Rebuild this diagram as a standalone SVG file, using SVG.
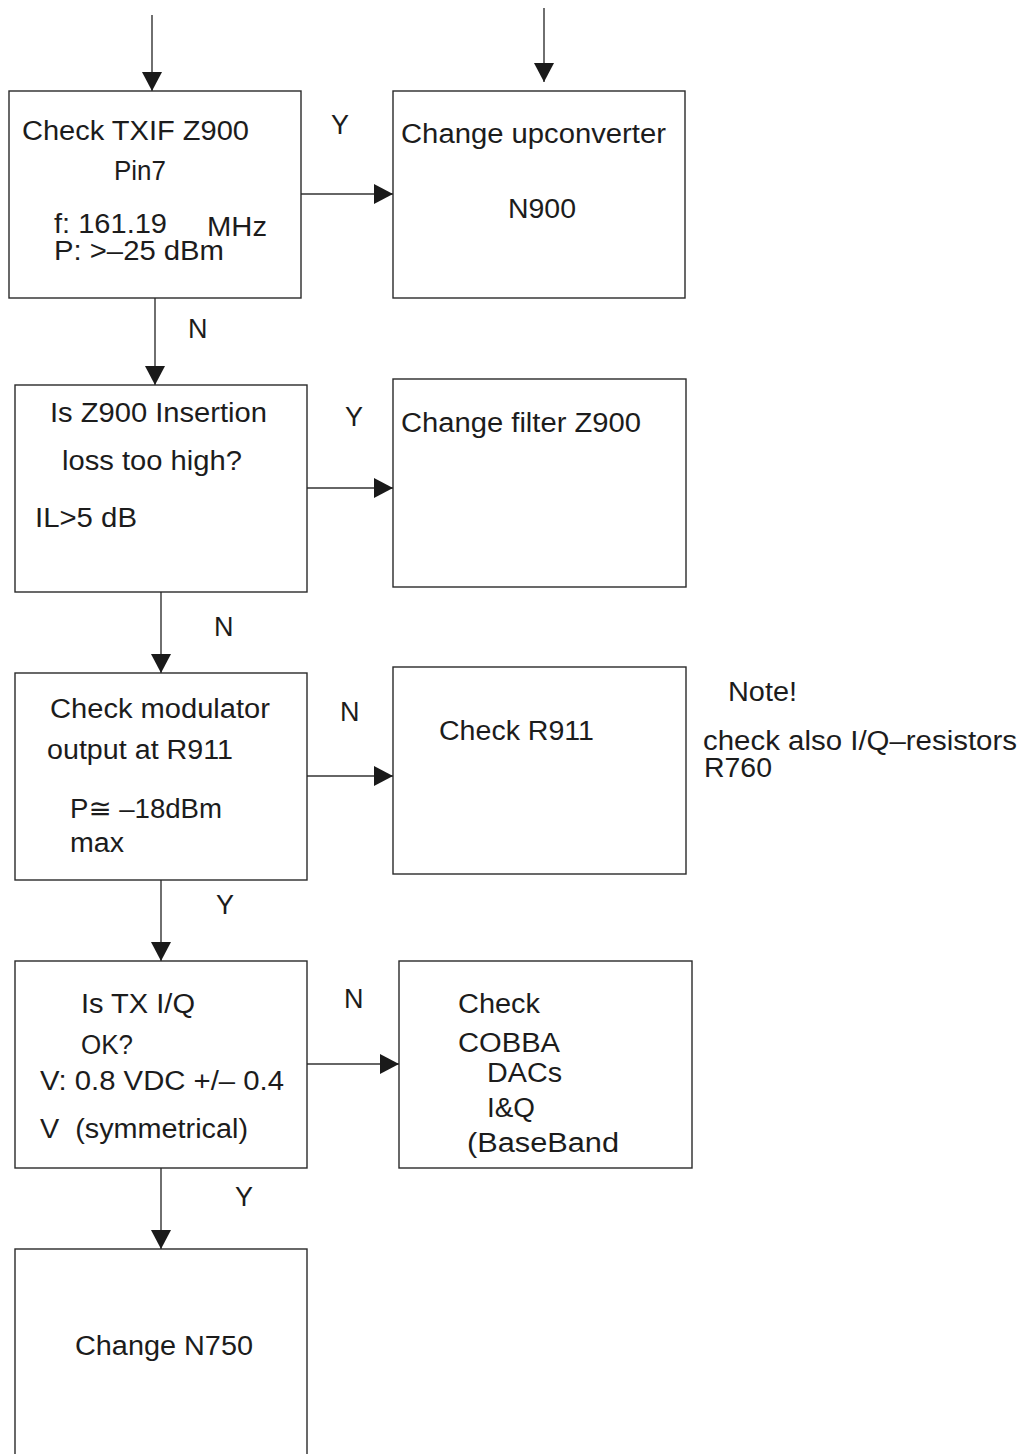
<svg xmlns="http://www.w3.org/2000/svg" width="1026" height="1454" viewBox="0 0 1026 1454">
  <style>
    .box { fill: #ffffff; stroke: #2a2a2a; stroke-width: 1.4; }
    .wire { fill: none; stroke: #333333; stroke-width: 1.4; }
    text { font-family: "Liberation Sans", Arial, "DejaVu Sans", sans-serif; font-size: 27px; fill: #1c1c1c; }
    .lbl { font-size: 27px; }
  </style>
  <defs>
    <marker id="head" markerUnits="userSpaceOnUse" markerWidth="20" markerHeight="20" refX="19" refY="10" orient="auto">
      <path d="M0,0 L19,10 L0,20 Z" fill="#1a1a1a"/>
    </marker>
  </defs>
  <rect width="1026" height="1454" fill="#ffffff"/>

  <!-- connectors -->
  <g id="connectors">
    <line class="wire" x1="152" y1="15" x2="152" y2="91" marker-end="url(#head)"/>
    <line class="wire" x1="544" y1="8" x2="544" y2="82" marker-end="url(#head)"/>
    <line class="wire" x1="301" y1="194" x2="393" y2="194" marker-end="url(#head)"/>
    <line class="wire" x1="155" y1="298" x2="155" y2="385" marker-end="url(#head)"/>
    <line class="wire" x1="307" y1="488" x2="393" y2="488" marker-end="url(#head)"/>
    <line class="wire" x1="161" y1="592" x2="161" y2="673" marker-end="url(#head)"/>
    <line class="wire" x1="307" y1="776" x2="393" y2="776" marker-end="url(#head)"/>
    <line class="wire" x1="161" y1="880" x2="161" y2="961" marker-end="url(#head)"/>
    <line class="wire" x1="307" y1="1064" x2="399" y2="1064" marker-end="url(#head)"/>
    <line class="wire" x1="161" y1="1168" x2="161" y2="1249" marker-end="url(#head)"/>
    <text class="lbl" x="331" y="134">Y</text>
    <text class="lbl" x="188" y="338">N</text>
    <text class="lbl" x="345" y="426">Y</text>
    <text class="lbl" x="214" y="636">N</text>
    <text class="lbl" x="340" y="721">N</text>
    <text class="lbl" x="216" y="914">Y</text>
    <text class="lbl" x="344" y="1008">N</text>
    <text class="lbl" x="235" y="1206">Y</text>
  </g>

  <!-- Check TXIF Z900 -->
  <g id="check-txif">
    <rect class="box" x="9" y="91" width="292" height="207"/>
    <text x="22" y="140" textLength="227" lengthAdjust="spacingAndGlyphs">Check TXIF Z900</text>
    <text x="114" y="180" textLength="52" lengthAdjust="spacingAndGlyphs">Pin7</text>
    <text x="54" y="233" textLength="113" lengthAdjust="spacingAndGlyphs">f: 161.19</text>
    <text x="207" y="236" textLength="60" lengthAdjust="spacingAndGlyphs">MHz</text>
    <text x="54" y="260" textLength="170" lengthAdjust="spacingAndGlyphs">P: &gt;–25 dBm</text>
  </g>

  <!-- Change upconverter -->
  <g id="change-upconverter">
    <rect class="box" x="393" y="91" width="292" height="207"/>
    <text x="401" y="143" textLength="265" lengthAdjust="spacingAndGlyphs">Change upconverter</text>
    <text x="508" y="218" textLength="68" lengthAdjust="spacingAndGlyphs">N900</text>
  </g>

  <!-- Insertion loss test -->
  <g id="insertion-loss">
    <rect class="box" x="15" y="385" width="292" height="207"/>
    <text x="50" y="422" textLength="217" lengthAdjust="spacingAndGlyphs">Is Z900 Insertion</text>
    <text x="62" y="470" textLength="180" lengthAdjust="spacingAndGlyphs">loss too high?</text>
    <text x="35" y="527" textLength="102" lengthAdjust="spacingAndGlyphs">IL&gt;5 dB</text>
  </g>

  <!-- Change filter -->
  <g id="change-filter">
    <rect class="box" x="393" y="379" width="293" height="208"/>
    <text x="401" y="432" textLength="240" lengthAdjust="spacingAndGlyphs">Change filter Z900</text>
  </g>

  <!-- Modulator output -->
  <g id="modulator-output">
    <rect class="box" x="15" y="673" width="292" height="207"/>
    <text x="50" y="718" textLength="220" lengthAdjust="spacingAndGlyphs">Check modulator</text>
    <text x="47" y="759" textLength="186" lengthAdjust="spacingAndGlyphs">output at R911</text>
    <text x="70" y="818" textLength="152" lengthAdjust="spacingAndGlyphs">P≅ –18dBm</text>
    <text x="70" y="852" textLength="54" lengthAdjust="spacingAndGlyphs">max</text>
  </g>

  <!-- Check R911 -->
  <g id="check-r911">
    <rect class="box" x="393" y="667" width="293" height="207"/>
    <text x="439" y="740" textLength="155" lengthAdjust="spacingAndGlyphs">Check R911</text>
  </g>

  <!-- Side note -->
  <g id="note">
    <text x="728" y="701" textLength="69" lengthAdjust="spacingAndGlyphs">Note!</text>
    <text x="703" y="750" textLength="314" lengthAdjust="spacingAndGlyphs">check also I/Q–resistors</text>
    <text x="704" y="777" textLength="68" lengthAdjust="spacingAndGlyphs">R760</text>
  </g>

  <!-- TX I/Q test -->
  <g id="tx-iq">
    <rect class="box" x="15" y="961" width="292" height="207"/>
    <text x="81" y="1013" textLength="114" lengthAdjust="spacingAndGlyphs">Is TX I/Q</text>
    <text x="81" y="1054" textLength="52" lengthAdjust="spacingAndGlyphs">OK?</text>
    <text x="40" y="1090" textLength="244" lengthAdjust="spacingAndGlyphs">V: 0.8 VDC +/– 0.4</text>
    <text x="40" y="1138" textLength="208" lengthAdjust="spacingAndGlyphs" xml:space="preserve">V  (symmetrical)</text>
  </g>

  <!-- Check COBBA -->
  <g id="check-cobba">
    <rect class="box" x="399" y="961" width="293" height="207"/>
    <text x="458" y="1013" textLength="82" lengthAdjust="spacingAndGlyphs">Check</text>
    <text x="458" y="1052" textLength="102" lengthAdjust="spacingAndGlyphs">COBBA</text>
    <text x="487" y="1082" textLength="75" lengthAdjust="spacingAndGlyphs">DACs</text>
    <text x="487" y="1117" textLength="48" lengthAdjust="spacingAndGlyphs">I&amp;Q</text>
    <text x="467" y="1152" textLength="152" lengthAdjust="spacingAndGlyphs">(BaseBand</text>
  </g>

  <!-- Change N750 (box continues past the lower edge) -->
  <g id="change-n750">
    <rect class="box" x="15" y="1249" width="292" height="220"/>
    <text x="75" y="1355" textLength="178" lengthAdjust="spacingAndGlyphs">Change N750</text>
  </g>
</svg>
